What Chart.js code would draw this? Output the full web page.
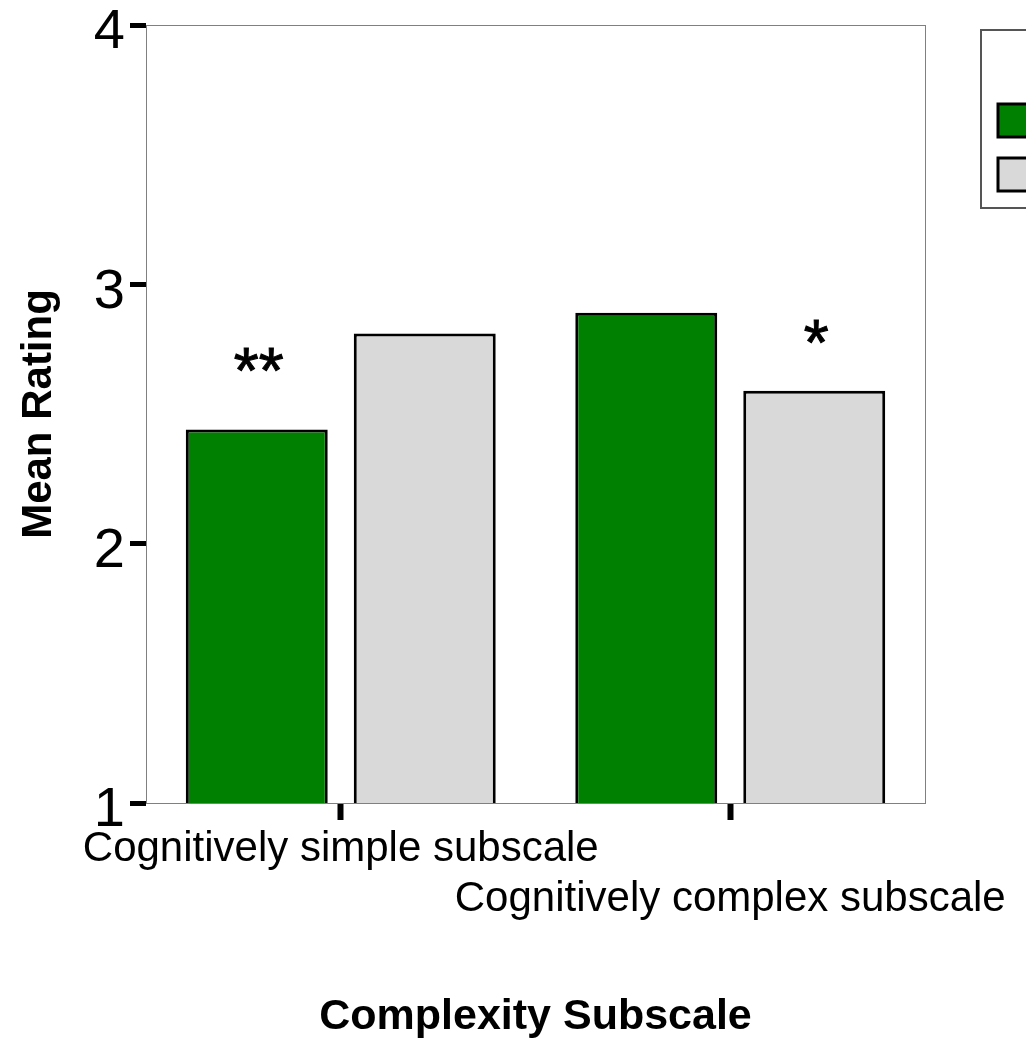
<!DOCTYPE html>
<html><head><meta charset="utf-8">
<script src="https://cdn.jsdelivr.net/npm/chart.js@4.4.1/dist/chart.umd.min.js"></script>
<style>html,body{margin:0;padding:0;background:#fff;overflow:hidden}#wrap{width:1026px;height:1038px;position:relative}</style>
</head><body><div id="wrap"><canvas id="c"></canvas></div>
<script>
const categories = ['Cognitively simple subscale', 'Cognitively complex subscale'];
const seriesNames = ['Group 1', 'Group 2'];
const greenValues = [2.44, 2.89];
const grayValues = [2.81, 2.59];
const yTicks = [1, 2, 3, 4];
const sigLabels = ['**', '*'];
const sigSeries = [0, 1];
const sigValues = [2.58, 2.69];

const FONT = "'Liberation Sans', Arial, sans-serif";

const panelBorder = {
  id: 'panelBorder',
  beforeDatasetsDraw(chart) {
    const {ctx, chartArea: a} = chart;
    ctx.save();
    ctx.strokeStyle = '#808080';
    ctx.lineWidth = 1;
    ctx.strokeRect(Math.round(a.left) + 0.5, Math.round(a.top) + 0.5, a.right - a.left, a.bottom - a.top);
    ctx.restore();
  }
};

const sigMarks = {
  id: 'sigMarks',
  afterDatasetsDraw(chart) {
    const {ctx} = chart;
    ctx.save();
    ctx.font = '64px ' + FONT;
    ctx.fillStyle = '#000';
    ctx.strokeStyle = '#000';
    ctx.lineWidth = 1;
    ctx.textAlign = 'center';
    ctx.textBaseline = 'alphabetic';
    sigLabels.forEach((t, i) => {
      const bar = chart.getDatasetMeta(sigSeries[i]).data[i];
      const y = chart.scales.y.getPixelForValue(sigValues[i]);
      ctx.fillText(t, bar.x + 2, y);
      ctx.strokeText(t, bar.x + 2, y);
    });
    ctx.restore();
  }
};

const customLegend = {
  id: 'customLegend',
  afterDraw(chart) {
    const {ctx} = chart;
    ctx.save();
    ctx.strokeStyle = '#555';
    ctx.lineWidth = 2;
    ctx.strokeRect(981, 30, 200, 178);
    chart.data.datasets.forEach((ds, i) => {
      const y = 104 + i * 54;
      ctx.fillStyle = ds.backgroundColor;
      ctx.fillRect(998, y, 33, 33);
      ctx.strokeStyle = '#000';
      ctx.lineWidth = 3;
      ctx.strokeRect(998, y, 33, 33);
      ctx.fillStyle = '#000';
      ctx.font = '42px ' + FONT;
      ctx.textBaseline = 'middle';
      ctx.fillText(ds.label, 1045, y + 17);
    });
    ctx.restore();
  }
};

new Chart(document.getElementById('c'), {
  type: 'bar',
  data: {
    labels: categories,
    datasets: [
      {label: seriesNames[0], data: greenValues, backgroundColor: '#008000', borderColor: '#000', borderWidth: 3, borderSkipped: false},
      {label: seriesNames[1], data: grayValues, backgroundColor: '#d9d9d9', borderColor: '#000', borderWidth: 3, borderSkipped: false}
    ]
  },
  options: {
    responsive: true,
    maintainAspectRatio: false,
    animation: false,
    devicePixelRatio: 1,
    layout: {padding: {left: 0, top: 25, right: 101, bottom: 0}},
    datasets: {bar: {categoryPercentage: 0.8626, barPercentage: 0.845}},
    plugins: {legend: {display: false}, tooltip: {enabled: false}},
    scales: {
      x: {
        offset: true,
        grid: {display: true, offset: false, drawOnChartArea: false, drawTicks: true, tickLength: 17, tickWidth: 6, tickColor: '#000'},
        border: {display: true, color: '#808080', width: 1},
        ticks: {
          color: '#000', font: {family: FONT, size: 42}, padding: 4,
          maxRotation: 0, minRotation: 0, autoSkip: false,
          callback: (v, i) => i % 2 === 0 ? categories[i] : ['', categories[i]]
        },
        title: {display: true, text: 'Complexity Subscale', color: '#000',
          font: {family: FONT, size: 43, weight: 'bold', lineHeight: 1.0}, padding: {top: 0, bottom: -1}},
        afterFit(s) { s.height = 235; s.paddingLeft = 0; s.paddingRight = 0; }
      },
      y: {
        min: 1, max: 4,
        afterBuildTicks(s) { s.ticks = yTicks.map(v => ({value: v})); },
        grid: {display: true, drawOnChartArea: false, drawTicks: true, tickLength: 16, tickWidth: 5, tickColor: '#000'},
        border: {display: true, color: '#808080', width: 1},
        ticks: {color: '#000', font: {family: FONT, size: 56}, padding: 5, labelOffset: 8,
          callback: v => String(v)},
        title: {display: true, text: 'Mean Rating', color: '#000',
          font: {family: FONT, size: 42, weight: 'bold', lineHeight: 1.2}, padding: {top: 14, bottom: 0}},
        afterFit(s) { s.width = 146; s.paddingTop = 0; s.paddingBottom = 0; }
      }
    }
  },
  plugins: [panelBorder, sigMarks, customLegend]
});
</script>
</body></html>
